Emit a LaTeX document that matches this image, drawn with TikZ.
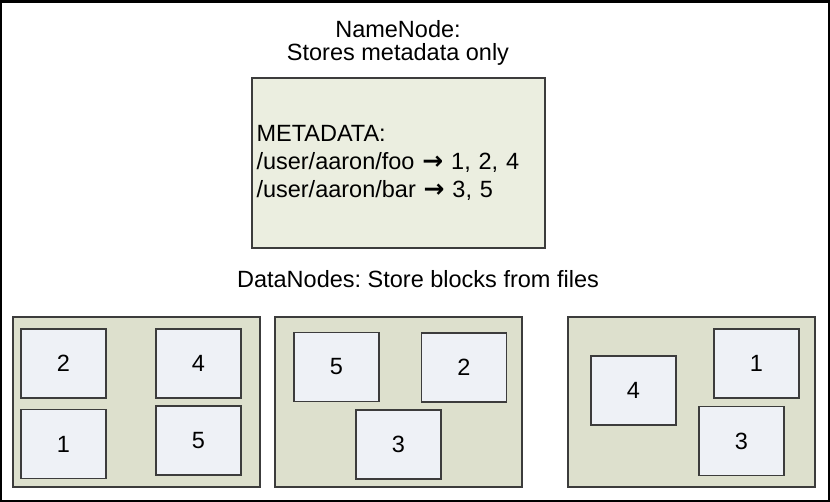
\documentclass[tikz,border=0pt]{standalone}
\usepackage{fontspec}
\setmainfont{Liberation Sans}
\newfontfamily\arrowfont{DejaVu Sans}
\usepackage{tikz}
\frenchspacing

\definecolor{border}{HTML}{3C3C3C}
\definecolor{nnfill}{HTML}{EBEEE0}
\definecolor{dnfill}{HTML}{DDE0CD}
\definecolor{blockfill}{HTML}{EEF1F6}
\newcommand{\maps}{{\arrowfont\bfseries\fontsize{25}{28}\selectfont →}}

\begin{document}
\begin{tikzpicture}[x=1pt,y=-1pt,font=\fontsize{23.5}{23}\selectfont,
                    name node/.style={rectangle,draw=border,fill=nnfill,line width=1.2pt,minimum width=293pt,minimum height=170pt,
                                      inner xsep=4.5pt,text width=284pt,align=left,font=\fontsize{23.5}{28}\selectfont},
                    data node/.style={rectangle,draw=border,fill=dnfill,line width=1.2pt,minimum width=247pt,minimum height=170pt},
                    block/.style={rectangle,draw=border,fill=blockfill,line width=1.2pt,minimum width=85pt,minimum height=69pt}]

\useasboundingbox (0,0) rectangle (830,502);
\draw[line width=2.4pt] (0.6,1.4) rectangle (828.8,500.8);

  \node[anchor=base,align=center] (title) at (398,61) {NameNode:\\Stores metadata only};
  \node[name node] (meta) at (398.5,163) {METADATA:\\/user/aaron/foo \maps{} 1, 2, 4\\/user/aaron/bar \maps{} 3, 5};
  \node[anchor=base] (dnlabel) at (418,288) {DataNodes: Store blocks from files};

  \node[data node] (dn1) at (136.5,402) {};
  \node[data node] (dn2) at (398.5,402) {};
  \node[data node] (dn3) at (691.5,402) {};

  \node[block] (dn1-2) at (63.5,363.5) {2};
  \node[block] (dn1-4) at (198.5,363.5) {4};
  \node[block] (dn1-1) at (63.5,444) {1};
  \node[block] (dn1-5) at (198.5,440.5) {5};

  \node[block] (dn2-5) at (336.5,367) {5};
  \node[block] (dn2-2) at (464,367.5) {2};
  \node[block] (dn2-3) at (398.5,444.5) {3};

  \node[block] (dn3-4) at (633.5,390.5) {4};
  \node[block] (dn3-1) at (756.5,363.5) {1};
  \node[block] (dn3-3) at (741.5,441) {3};
\end{tikzpicture}
\end{document}
